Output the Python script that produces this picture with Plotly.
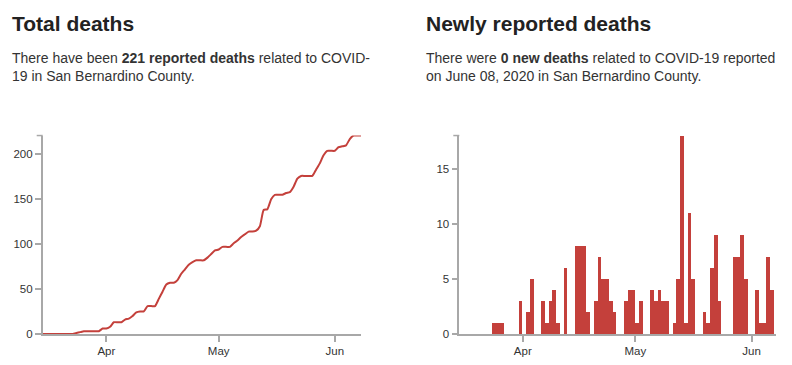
import pandas as pd
import plotly.graph_objects as go

# ---------------- data ----------------
start_date = "2020-03-15"
end_date = "2020-06-08"
dates = pd.date_range(start_date, end_date, freq="D")

new_deaths = [
    0, 0, 0, 0, 0, 0, 0, 0, 0,            # Mar 15-23
    1, 1, 1, 0, 0, 0, 0, 3,               # Mar 24-31
    0, 2, 5, 0, 0, 3, 1, 3, 4, 1,         # Apr 1-10
    0, 6, 0, 0, 8, 8, 8, 2, 0, 3,         # Apr 11-20
    7, 5, 5, 3, 2, 0, 0, 3, 4, 4,         # Apr 21-30
    1, 3, 0, 0, 4, 3, 4, 3, 3, 0,         # May 1-10
    1, 5, 18, 1, 11, 5, 0, 0, 2, 1,       # May 11-20
    6, 9, 3, 0, 0, 0, 7, 7, 9, 5, 0,      # May 21-31
    0, 4, 1, 1, 7, 4, 0, 0,               # Jun 1-8
]

total_deaths = [
    0, 0, 0, 0, 0, 0, 0, 0, 0,
    1, 2, 3, 3, 3, 3, 3, 6,
    6, 8, 13, 13, 13, 16, 17, 20, 24, 25,
    25, 31, 31, 31, 39, 47, 55, 57, 57, 60,
    67, 72, 77, 80, 82, 82, 82, 85, 89, 93,
    94, 97, 97, 97, 101, 104, 108, 111, 114, 114,
    115, 120, 138, 139, 150, 155, 155, 155, 157, 158,
    164, 173, 176, 176, 176, 176, 183, 190, 199, 204, 204,
    204, 208, 209, 210, 217, 221, 221, 221,
]

left_yticks = [0, 50, 100, 150, 200]
right_yticks = [0, 5, 10, 15]
month_ticks = ["2020-04-01", "2020-05-01", "2020-06-01"]
month_labels = ["Apr", "May", "Jun"]

# ---------------- style ----------------
RED = "#c4403b"
AXIS = "#a8a8a8"
FONT = "Liberation Sans, Arial, Helvetica, sans-serif"

fig = go.Figure()

fig.add_trace(go.Scatter(
    x=dates, y=total_deaths, mode="lines",
    line=dict(color=RED, width=2, shape="spline", smoothing=0.5),
    xaxis="x", yaxis="y", hoverinfo="x+y",
))

fig.add_trace(go.Bar(
    x=dates, y=new_deaths, marker=dict(color=RED, line=dict(width=0)),
    offset=0, width=86400000,
    xaxis="x2", yaxis="y2",
))

W, H = 792, 365
PLOT_BOTTOM = 339.5
PLOT_TOP = 137.8
ydom = [(H - PLOT_BOTTOM) / H, (H - PLOT_TOP) / H]

common_x = dict(
    type="date", showline=True, linecolor=AXIS, linewidth=1.5,
    ticks="outside", ticklen=6, tickcolor=AXIS, tickwidth=1.5,
    tickvals=month_ticks, ticktext=month_labels,
    showgrid=False, zeroline=False,
    tickfont=dict(family=FONT, size=11.5, color="#333"),
)
common_y = dict(
    showline=True, linecolor=AXIS, linewidth=1.5,
    ticks="outside", ticklen=6, tickcolor=AXIS, tickwidth=1.5,
    showgrid=False, zeroline=False,
    tickfont=dict(family=FONT, size=11.5, color="#333"),
)

fig.update_layout(
    width=W, height=H,
    margin=dict(l=0, r=0, t=0, b=0),
    paper_bgcolor="white", plot_bgcolor="white",
    showlegend=False,
    bargap=0,
    xaxis=dict(common_x, domain=[42.7 / W, 361 / W],
               range=["2020-03-15", "2020-06-08"], anchor="y"),
    yaxis=dict(common_y, domain=ydom, range=[0, 221],
               tickvals=left_yticks, anchor="x"),
    xaxis2=dict(common_x, domain=[459.3 / W, 776 / W],
                range=["2020-03-15 02:00", "2020-06-07 12:00"], anchor="y2"),
    yaxis2=dict(common_y, domain=ydom, range=[0, 18],
                tickvals=right_yticks, anchor="x2"),
)

# outer ticks at the top of the y axes
fig.add_shape(type="line", xref="paper", yref="y domain", xsizemode="pixel",
              xanchor=42.7 / W, x0=-6, x1=0, y0=1, y1=1,
              line=dict(color=AXIS, width=1.5))
fig.add_shape(type="line", xref="paper", yref="y2 domain", xsizemode="pixel",
              xanchor=459.3 / W, x0=-6, x1=0, y0=1, y1=1,
              line=dict(color=AXIS, width=1.5))


def py(px):
    return (H - px) / H


annots = [
    dict(x=10 / W, y=py(24), text="<b>Total deaths</b>",
         font=dict(family=FONT, size=21, color="#222")),
    dict(x=424 / W, y=py(24), text="<b>Newly reported deaths</b>",
         font=dict(family=FONT, size=21, color="#222")),
    dict(x=10 / W, y=py(68), align="left",
         text="There have been <b>221 reported deaths</b> related to COVID-<br>19 in San Bernardino County.",
         font=dict(family=FONT, size=14, color="#333")),
    dict(x=424 / W, y=py(68), align="left",
         text="There were <b>0 new deaths</b> related to COVID-19 reported<br>on June 08, 2020 in San Bernardino County.",
         font=dict(family=FONT, size=14, color="#333")),
]
for a in annots:
    fig.add_annotation(xref="paper", yref="paper", xanchor="left", yanchor="middle",
                       showarrow=False, **a)

fig.write_html("out.html", config={"displayModeBar": False},
               post_script="document.body.style.margin='0';")
